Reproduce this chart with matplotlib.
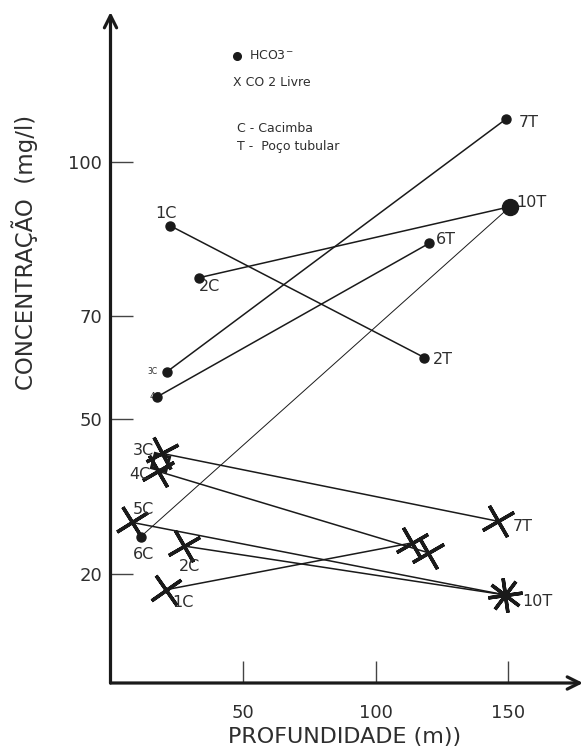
import matplotlib
matplotlib.use("Agg")
import matplotlib.pyplot as plt

# HCO3- (dots)
hco3_c_names = ["1C", "2C", "3C", "4C", "6C"]
hco3_c_depth = [22.5, 33.4, 21.2, 17.7, 11.4]
hco3_c_conc = [87.6, 77.5, 59.2, 54.4, 27.2]
hco3_t_names = ["2T", "6T", "7T", "10T"]
hco3_t_depth = [118.4, 120.3, 149.2, 150.8]
hco3_t_conc = [62.0, 84.2, 108.3, 91.3]
hco3_links = [("1C", "2T"), ("2C", "10T"), ("3C", "7T"), ("4C", "6T"), ("6C", "10T")]

# CO2 livre (crosses)
co2_c_names = ["1C", "2C", "3C", "4C", "5C"]
co2_c_depth = [20.8, 27.7, 19.3, 18.0, 8.0]
co2_c_conc = [16.9, 25.4, 43.4, 39.9, 30.0]
co2_t_names = ["2T", "6T", "7T", "10T"]
co2_t_depth = [113.7, 119.9, 146.3, 148.9]
co2_t_conc = [26.0, 24.1, 30.2, 15.9]
co2_links = [("1C", "2T"), ("2C", "10T"), ("3C", "7T"), ("4C", "6T"), ("5C", "10T")]

xticks = [50, 100, 150]
yticks = [20, 50, 70, 100]

INK = "#1a1a1a"
TXT = "#2e2e2e"

fig = plt.figure(figsize=(5.84, 7.49), dpi=100)
ax = fig.add_axes([110.5 / 584, 66 / 749, 472.5 / 584, 671 / 749])
ax.set_xlim(0, 178.3)
ax.set_ylim(-1.2, 129.1)
for s in ax.spines.values():
    s.set_visible(False)

# axes with arrows
arrow = dict(arrowstyle="->", lw=2.3, color=INK, mutation_scale=22, shrinkA=0, shrinkB=0)
ax.annotate("", xy=(1, 0), xytext=(0, 0), xycoords="axes fraction", arrowprops=arrow, annotation_clip=False)
ax.annotate("", xy=(0, 1), xytext=(0, 0), xycoords="axes fraction", arrowprops=arrow, annotation_clip=False)

ax.set_xticks(xticks)
ax.set_yticks(yticks)
ax.tick_params(axis="x", direction="in", length=16, width=1, color="#444", labelsize=13, labelcolor=TXT, pad=15)
ax.tick_params(axis="y", direction="in", length=16, width=1, color="#444", labelsize=13, labelcolor=TXT, pad=6)

hc = dict(zip(hco3_c_names, zip(hco3_c_depth, hco3_c_conc)))
ht = dict(zip(hco3_t_names, zip(hco3_t_depth, hco3_t_conc)))
cc = dict(zip(co2_c_names, zip(co2_c_depth, co2_c_conc)))
ct = dict(zip(co2_t_names, zip(co2_t_depth, co2_t_conc)))

# HCO3 lines
for a, b in hco3_links:
    lw = 0.7 if a == "6C" else 1.1
    ax.plot([hc[a][0], ht[b][0]], [hc[a][1], ht[b][1]], color=INK, lw=lw, zorder=2)
ax.plot(hco3_c_depth, hco3_c_conc, "o", color=INK, ms=6.5, zorder=4)
for n, x, y in zip(hco3_t_names, hco3_t_depth, hco3_t_conc):
    ax.plot(x, y, "o", color=INK, ms=11.5 if n == "10T" else 6.5, zorder=4)

# CO2 lines
for a, b in co2_links:
    ax.plot([cc[a][0], ct[b][0]], [cc[a][1], ct[b][1]], color=INK, lw=1.1, zorder=2)
cross_angles = {"1C": 35, "2C": 30, "3C": 28, "4C": 30, "5C": 32, "2T": 30, "6T": 30, "7T": 30}
for n, x, y in zip(co2_c_names, co2_c_depth, co2_c_conc):
    ax.plot(x, y, marker=(4, 2, cross_angles[n]), color=INK, ms=26, mew=2.5, zorder=3)
for n, x, y in zip(co2_t_names, co2_t_depth, co2_t_conc):
    if n == "10T":
        ax.plot(x, y, marker=(8, 2, 8), color=INK, ms=25, mew=2.5, zorder=3)
    else:
        ax.plot(x, y, marker=(4, 2, cross_angles[n]), color=INK, ms=26, mew=2.5, zorder=3)
# small square between 3C and 4C crosses
ax.plot((cc["3C"][0] + cc["4C"][0]) / 2, (cc["3C"][1] + cc["4C"][1]) / 2,
        marker=(4, 0, 30), ms=15, mfc="none", mec=INK, mew=2.2, zorder=3)

# point labels (offsets in points)
hco3_lab = {"1C": (-3, 9, "center", 11.5), "2C": (0, -6, "left", 11.5), "3C": (-6.5, 0, "right", 5.5),
            "4C": (3, 0, "right", 6.5), "6C": (2, -12.5, "center", 11.5)}
hco3_tlab = {"2T": (6.5, -1.5), "6T": (5, 2.5), "7T": (9.5, -2.5), "10T": (4.5, 3)}
for n, (x, y) in hc.items():
    dx, dy, ha, fs = hco3_lab[n]
    ax.annotate(n, (x, y), xytext=(dx, dy), textcoords="offset points", ha=ha, va="center",
                fontsize=fs, color=TXT, zorder=3)
for n, (x, y) in ht.items():
    dx, dy = hco3_tlab[n]
    ax.annotate(n, (x, y), xytext=(dx, dy), textcoords="offset points", ha="left", va="center",
                fontsize=11.5, color=TXT, zorder=5)

co2_lab = {"1C": (5, -9), "2C": (-3.4, -15), "3C": (-21, 2), "4C": (-21, -2), "5C": (0.5, 9.5),
           "7T": (10.5, -3.5), "10T": (12.5, -5)}
for n, (x, y) in list(cc.items()) + list(ct.items()):
    if n not in co2_lab:
        continue
    dx, dy = co2_lab[n]
    ax.annotate(n, (x, y), xytext=(dx, dy), textcoords="offset points", ha="left", va="center",
                fontsize=11.5, color=TXT, zorder=5)

# legend block
ax.plot(47.6, 120.6, "o", color=INK, ms=5.5, clip_on=False)
ax.text(52.4, 120.6, r"HCO3$^{\mathregular{-}}$", fontsize=9, color=TXT, va="center")
ax.text(46.1, 115.4, "X CO 2 Livre", fontsize=9, color=TXT, va="center")
ax.text(47.6, 106.5, "C - Cacimba", fontsize=9, color=TXT, va="center")
ax.text(47.6, 103.0, "T -  Poço tubular", fontsize=9, color=TXT, va="center")

fig.text(345 / 584, 1 - 737 / 749, "PROFUNDIDADE (m))", fontsize=16, color=TXT, ha="center", va="center")
fig.text(25 / 584, 1 - 252 / 749, "CONCENTRAÇÃO  (mg/l)", fontsize=16.5, color=TXT,
         ha="center", va="center", rotation=90)

plt.savefig("out.png", dpi=100)
